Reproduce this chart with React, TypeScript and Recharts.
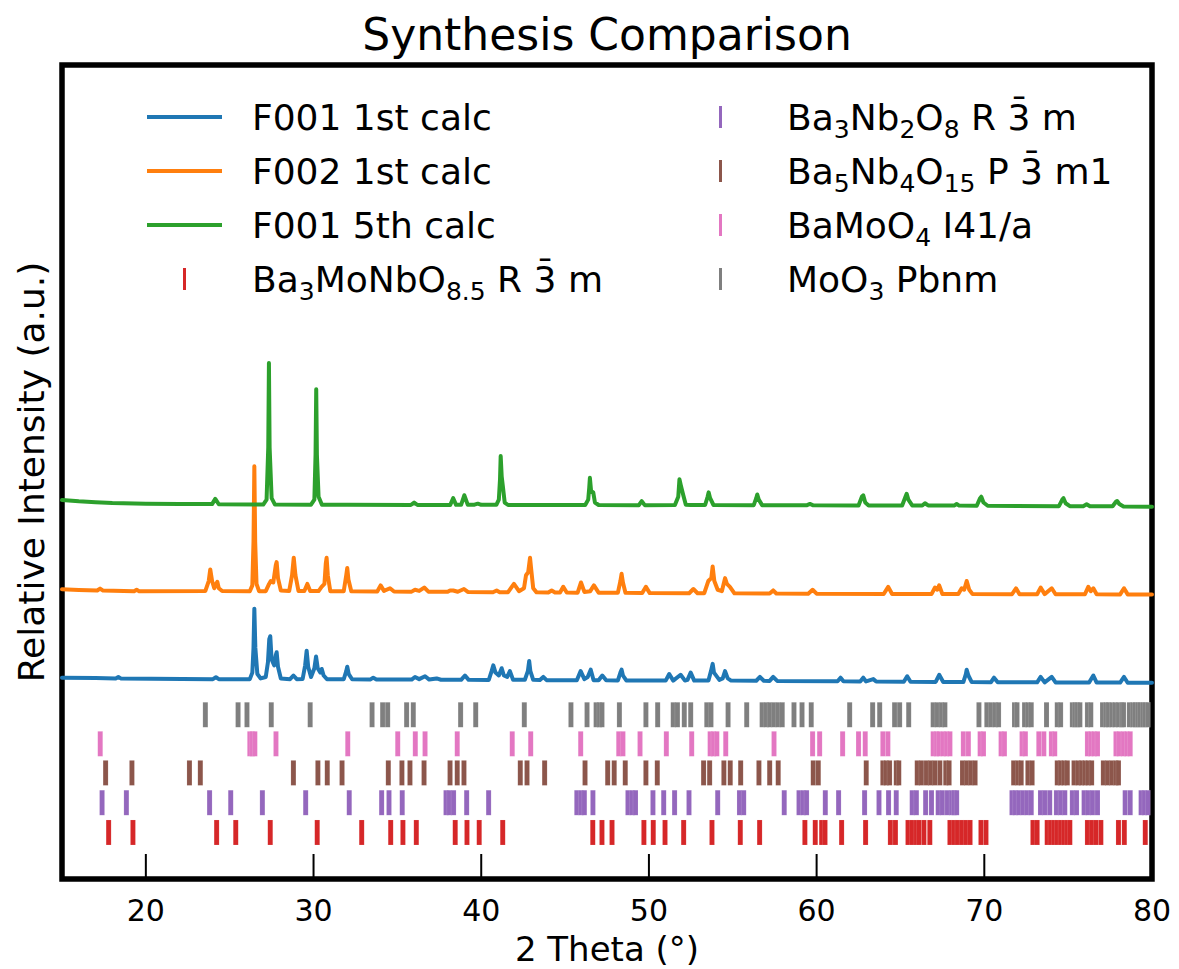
import {
  ComposedChart,
  Line,
  Scatter,
  XAxis,
  YAxis,
  ReferenceArea,
} from 'recharts'

type Pt = [number, number]

// 2θ ticks on the bottom axis
const X_TICKS = [20, 30, 40, 50, 60, 70, 80]

// measured patterns: [2θ, intensity above own baseline]
const F001_1ST: Pt[] = [
  [15, 1.5], [17, 1.2], [18.2, 1.0], [18.36, 2], [18.5, 1.0], [24.0, 0.5], [24.18, 1.8], [24.35, 0.5],
  [26.2, 0.5], [26.35, 5], [26.42, 22], [26.47, 49], [26.53, 22], [26.65, 4], [26.85, 1],
  [27.15, 2], [27.28, 12], [27.36, 28], [27.42, 30], [27.5, 14], [27.65, 10], [27.75, 17], [27.8, 19], [27.88, 9], [28.05, 1],
  [28.6, 0.5], [28.8, 3], [29.0, 0.5],
  [29.35, 0.6], [29.5, 10], [29.59, 20], [29.68, 9], [29.85, 2], [30.05, 8], [30.15, 16], [30.25, 8], [30.4, 5], [30.49, 7.5], [30.6, 3], [30.8, 0.5],
  [31.8, 0.4], [31.95, 6], [32.01, 9], [32.1, 4], [32.3, 0.4],
  [33.4, 0.3], [33.56, 1.5], [33.75, 0.3],
  [35.85, 0.2], [36.05, 2], [36.3, 0.5], [36.65, 2.5], [36.9, 0.2], [37.34, 1], [37.6, 0.1],
  [38.8, 0], [39.03, 3], [39.25, 0],
  [40.45, -0.1], [40.62, 6], [40.72, 10], [40.85, 5], [41.05, 3], [41.22, 8], [41.35, 3], [41.55, 2], [41.71, 6], [41.9, 0],
  [42.6, 0], [42.78, 6], [42.86, 13], [42.93, 6], [43.1, 0],
  [43.5, -0.1], [43.7, 2], [43.9, -0.2],
  [45.7, -0.3], [45.93, 6], [46.15, 0.5], [46.35, 2], [46.53, 7], [46.7, -0.2], [47.0, -0.3], [47.22, 3], [47.45, -0.3],
  [48.15, -0.4], [48.3, 5], [48.37, 7], [48.45, 3], [48.65, -0.4],
  [51.0, -0.5], [51.21, 4], [51.45, -0.5], [51.89, 3.5], [52.15, -0.5], [52.3, 0], [52.49, 5], [52.7, -0.5],
  [53.55, -0.5], [53.7, 6], [53.8, 11], [53.88, 5], [54.2, 0], [54.4, 1], [54.54, 6], [54.7, 1], [54.9, -0.5],
  [56.4, -0.6], [56.62, 2], [56.85, -0.6], [57.2, -0.7], [57.41, 2], [57.65, -0.7],
  [61.25, -1], [61.43, 1.5], [61.6, -1], [62.6, -1.1], [62.78, 1.5], [62.95, -1.1], [63.38, 0.5], [63.55, -1.2],
  [65.2, -1.3], [65.4, 2.5], [65.6, -1.3],
  [67.1, -1.4], [67.31, 3.5], [67.55, -1.4],
  [68.75, -1.5], [68.9, 4], [68.95, 7], [69.05, 3], [69.25, -1.5],
  [70.4, -1.6], [70.58, 1.5], [70.8, -1.6],
  [73.15, -1.7], [73.36, 2], [73.6, -1.7], [74.02, 2], [74.25, -1.8],
  [76.25, -1.8], [76.5, 3], [76.7, -1.9],
  [78.1, -1.9], [78.33, 2], [78.55, -2],
  [80, -2],
]

const F002_1ST: Pt[] = [
  [15, 2.3], [16, 1.9], [17.1, 1.5], [17.27, 2.8], [17.45, 1.4], [19.3, 1.0], [19.45, 2], [19.6, 1.0],
  [23.55, 1.2], [23.75, 8], [23.84, 16], [23.95, 8], [24.08, 3], [24.2, 6], [24.26, 7.5], [24.35, 3], [24.55, 1.1],
  [26.2, 1.0], [26.35, 5], [26.42, 35], [26.47, 87], [26.52, 35], [26.6, 6], [26.75, 1.0],
  [27.15, 1], [27.35, 6], [27.45, 8], [27.6, 7], [27.75, 19], [27.8, 21], [27.88, 10], [28.05, 1.5],
  [28.55, 1.2], [28.72, 12], [28.82, 24], [28.92, 12], [29.1, 1.2],
  [29.45, 1.1], [29.63, 6], [29.8, 1.1],
  [30.3, 1.1], [30.48, 4], [30.65, 6], [30.73, 20], [30.78, 24], [30.85, 12], [31.0, 1.0],
  [31.8, 1.0], [31.95, 12], [32.01, 17], [32.08, 9], [32.25, 0.9],
  [33.8, 0.8], [34.0, 5], [34.2, 1.2], [34.56, 3], [34.8, 0.8],
  [35.85, 0.7], [36.05, 2], [36.3, 1.2], [36.6, 3.5], [36.85, 0.7],
  [38.0, 0.6], [38.14, 1.5], [38.33, 1.5], [38.6, 0.6], [38.97, 2.5], [39.2, 0.5],
  [40.7, 0.3], [40.92, 1.5], [41.1, 0.3],
  [41.6, 0.3], [41.95, 6], [42.25, 1], [42.55, 3], [42.67, 12], [42.8, 14], [42.91, 24], [42.98, 16], [43.1, 3], [43.3, 0.2],
  [44.0, 0.1], [44.2, 1.5], [44.4, 0.1], [44.7, 0.1], [44.89, 4], [45.1, 0.1],
  [45.75, 0], [45.95, 7], [46.15, 0.5], [46.5, 1], [46.72, 5], [47.0, 0],
  [48.15, 0], [48.3, 8], [48.37, 13], [48.45, 7], [48.6, 0],
  [49.6, -0.2], [49.82, 4], [50.05, -0.3],
  [52.4, -0.4], [52.65, 2.5], [52.9, -0.4],
  [53.3, -0.4], [53.54, 8], [53.72, 10], [53.8, 18], [53.9, 8], [54.1, 2], [54.35, 1], [54.54, 10], [54.65, 6], [54.83, 4], [55.1, -0.5],
  [57.2, -0.6], [57.41, 1.5], [57.6, -0.6],
  [59.5, -0.7], [59.76, 2], [60.0, -0.7],
  [64.0, -0.9], [64.27, 4], [64.5, -0.9],
  [66.85, -1], [67.06, 3.5], [67.2, 2], [67.31, 5], [67.5, -1],
  [68.45, -1], [68.65, 3], [68.8, 2], [68.95, 8], [69.1, 2], [69.3, -1],
  [71.65, -1.1], [71.89, 3], [72.1, -1.1],
  [73.15, -1.1], [73.36, 3.5], [73.6, -1], [74.02, 3], [74.25, -1.1],
  [76.0, -1.1], [76.2, 4], [76.35, 1], [76.5, 3], [76.7, -1.1],
  [78.1, -1.2], [78.33, 3], [78.55, -1.2],
  [80, -1.2],
]

const F001_5TH: Pt[] = [
  [15, 3.7], [16, 2.8], [17, 2.2], [18, 1.6], [20, 1.2], [22, 1.0], [23.95, 0.9], [24.14, 4.5], [24.35, 0.8],
  [27.0, 0.6], [27.2, 4], [27.3, 40], [27.34, 98], [27.38, 40], [27.5, 5], [27.7, 0.6],
  [29.85, 0.5], [30.05, 4], [30.12, 35], [30.16, 80], [30.2, 35], [30.3, 6], [30.5, 0.5],
  [32, 0.4], [35.8, 0.3], [36.0, 2], [36.2, 0.3],
  [38.15, 0.3], [38.33, 5], [38.5, 0.4], [38.8, 0.4], [38.99, 7], [39.2, 0.4], [39.6, 0.5], [39.8, 1.2], [40.0, 0.4],
  [40.9, 0.4], [41.05, 4], [41.12, 18], [41.16, 34], [41.22, 20], [41.28, 14], [41.4, 2], [41.6, 0.3],
  [46.2, 0.3], [46.38, 4], [46.44, 12], [46.48, 19], [46.55, 10], [46.68, 9], [46.78, 2], [47.0, 0.3],
  [49.4, 0.2], [49.57, 3], [49.75, 0.2],
  [51.55, 0.3], [51.75, 6], [51.82, 18], [51.9, 14], [52.05, 7], [52.2, 0.5], [52.5, 0.3],
  [53.35, 0.3], [53.5, 6], [53.56, 9], [53.65, 5], [53.85, 0.3],
  [56.25, 0.2], [56.4, 5], [56.46, 7.5], [56.55, 4], [56.75, 0.2],
  [59.4, 0.1], [59.6, 1], [59.8, 0.1],
  [62.5, 0], [62.7, 6], [62.78, 7], [62.9, 2], [63.1, 0],
  [65.1, 0], [65.3, 6], [65.37, 8], [65.47, 4], [65.7, 0],
  [66.3, 0], [66.46, 1.5], [66.65, 0],
  [68.2, -0.1], [68.35, 1], [68.5, -0.1],
  [69.55, -0.2], [69.75, 5], [69.82, 6], [69.95, 2], [70.2, -0.2],
  [74.45, -0.5], [74.65, 4], [74.72, 5], [74.85, 1.5], [75.1, -0.5],
  [75.9, -0.5], [76.1, 0.8], [76.3, -0.6],
  [77.65, -0.6], [77.85, 2.5], [77.92, 3], [78.05, 1], [78.3, -0.7],
  [80, -0.9],
]

// reference reflection positions (2θ) for each phase
const BA3MONBO85_PEAKS = [
  17.78, 19.23, 24.22, 25.36, 27.42, 30.22, 32.87, 34.6, 35.33, 36.13, 38.45, 39.15, 39.88, 41.28,
  46.65, 47.2, 47.8, 49.7, 50.26, 50.96, 52.07, 53.76, 55.45, 56.6, 59.3, 59.92, 60.3, 60.5, 61.49,
  62.92, 64.4, 64.7, 65.45, 65.7, 65.95, 66.1, 66.4, 66.75, 67.95, 68.2, 68.4, 68.65, 68.9, 69.15,
  69.8, 70.1, 72.9, 73.15, 73.75, 73.95, 74.15, 74.35, 74.55, 74.75, 74.95, 75.1, 76.15, 76.4,
  76.65, 76.95, 78.0, 78.35, 79.6,
]
const BA3NB2O8_PEAKS = [
  17.39, 18.84, 23.8, 25.06, 26.95, 29.53, 32.13, 34.06, 34.5, 35.29, 37.9, 38.1, 38.35, 39.13,
  40.44, 45.7, 45.95, 46.15, 46.66, 48.75, 49.0, 49.2, 50.24, 50.88, 51.53, 52.39, 54.1, 55.4,
  55.65, 58.07, 58.95, 59.2, 59.4, 60.52, 61.31, 62.86, 63.72, 64.29, 64.75, 65.7, 65.95, 66.5,
  66.85, 67.25, 67.5, 67.8, 68.05, 68.2, 68.35, 71.65, 71.85, 72.05, 72.3, 72.55, 72.8, 73.35,
  73.6, 73.9, 74.3, 74.55, 74.8, 75.25, 75.5, 75.95, 76.2, 76.45, 76.75, 78.4, 78.7, 79.35, 79.55,
  79.75,
]
const BA5NB4O15_PEAKS = [
  17.6, 19.17, 22.6, 23.25, 28.8, 30.26, 30.82, 31.7, 34.46, 35.27, 35.75, 36.59, 38.14, 38.57,
  38.97, 42.33, 42.73, 43.78, 46.19, 47.54, 47.93, 48.59, 49.82, 50.5, 53.26, 53.62, 54.47, 54.85,
  55.47, 56.56, 57.2, 57.71, 59.8, 60.1, 62.96, 63.95, 64.15, 64.35, 64.75, 64.9, 66.0, 66.25,
  66.55, 66.8, 67.05, 67.35, 67.7, 67.9, 68.7, 68.95, 69.2, 69.45, 71.75, 72.0, 72.2, 72.6, 72.85,
  74.35, 74.55, 74.75, 74.95, 75.35, 75.6, 75.8, 76.0, 76.2, 76.4, 77.1, 77.35, 77.6, 77.85, 78.0,
]
const BAMOO4_PEAKS = [
  17.28, 26.2, 26.35, 26.5, 27.76, 32.04, 35.02, 36.07, 36.65, 38.57, 41.85, 42.95, 45.93, 48.2,
  48.45, 49.47, 51.04, 52.55, 53.65, 53.85, 54.05, 54.58, 57.46, 59.76, 60.18, 61.55, 62.5, 62.9,
  63.95, 64.25, 66.95, 67.15, 67.3, 67.55, 67.75, 67.95, 68.75, 69.05, 69.75, 69.95, 71.0, 71.2,
  72.25, 72.45, 73.25, 73.55, 74.0, 74.2, 76.15, 76.35, 76.55, 76.75, 77.85, 78.05, 78.3, 78.5,
  78.7,
]
const MOO3_PEAKS = [
  23.55, 25.5, 26.03, 27.48, 29.8, 33.49, 34.12, 34.42, 35.55, 35.95, 38.77, 39.67, 42.57, 45.35,
  46.31, 46.85, 47.05, 47.2, 48.24, 49.82, 50.52, 51.45, 51.7, 52.11, 52.49, 53.45, 53.7, 54.72,
  55.83, 56.75, 57.0, 57.2, 57.45, 57.7, 57.95, 58.65, 59.13, 59.68, 61.97, 63.34, 63.76, 64.65,
  64.95, 65.49, 66.95, 67.2, 67.45, 67.65, 69.68, 70.15, 70.4, 70.65, 70.85, 71.8, 71.95, 72.4,
  72.6, 72.8, 73.71, 74.35, 74.55, 75.25, 75.4, 75.55, 75.7, 76.15, 76.35, 77.05, 77.25, 77.4,
  77.6, 77.8, 78.0, 78.2, 78.3, 78.65, 78.85, 79.0, 79.15, 79.3, 79.45, 79.6, 79.75,
]

// label pieces: [text, isSubscript]
type Part = [string, boolean]

const PATTERNS = [
  { name: 'F001 1st calc', color: '#1f77b4', points: F001_1ST, offset: 137 },
  { name: 'F002 1st calc', color: '#ff7f0e', points: F002_1ST, offset: 197 },
  { name: 'F001 5th calc', color: '#2ca02c', points: F001_5TH, offset: 257 },
]

const PHASES: { label: Part[]; color: string; peaks: number[]; row: number }[] = [
  {
    label: [['Ba', false], ['3', true], ['MoNbO', false], ['8.5', true], [' R 3\u0304 m', false]],
    color: '#d62728',
    peaks: BA3MONBO85_PEAKS,
    row: 32,
  },
  {
    label: [['Ba', false], ['3', true], ['Nb', false], ['2', true], ['O', false], ['8', true], [' R 3\u0304 m', false]],
    color: '#9467bd',
    peaks: BA3NB2O8_PEAKS,
    row: 52.5,
  },
  {
    label: [['Ba', false], ['5', true], ['Nb', false], ['4', true], ['O', false], ['15', true], [' P 3\u0304 m1', false]],
    color: '#8c564b',
    peaks: BA5NB4O15_PEAKS,
    row: 73,
  },
  {
    label: [['BaMoO', false], ['4', true], [' I41/a', false]],
    color: '#e377c2',
    peaks: BAMOO4_PEAKS,
    row: 93,
  },
  {
    label: [['MoO', false], ['3', true], [' Pbnm', false]],
    color: '#7f7f7f',
    peaks: MOO3_PEAKS,
    row: 113,
  },
]

const FONT = '"DejaVu Sans", sans-serif'
const LEGEND_FS = 36

function AxisTick({ x, y, payload }: any) {
  return (
    <g>
      <line x1={x} x2={x} y1={y} y2={y - 25} stroke="#000" strokeWidth={2} />
      <text x={x} y={y + 42} textAnchor="middle" fontSize={30} fill="#000">
        {payload.value}
      </text>
    </g>
  )
}

const peakMark = (color: string) => (props: any) => (
  <rect
    x={props.cx - 2.5}
    y={props.cy - 12.5}
    width={5}
    height={25}
    fill={color}
    stroke="#fff"
    strokeOpacity={0.25}
    strokeWidth={0.5}
  />
)

function RichLabel({ x, y, parts }: { x: number; y: number; parts: Part[] }) {
  let shifted = false
  return (
    <text x={x} y={y} fontSize={LEGEND_FS} fill="#000">
      {parts.map(([t, sub], i) => {
        const dy = sub && !shifted ? 8 : !sub && shifted ? -8 : 0
        shifted = sub
        return (
          <tspan key={i} dy={dy} fontSize={sub ? 25 : LEGEND_FS}>
            {t}
          </tspan>
        )
      })}
    </text>
  )
}

function LegendOverlay() {
  const rows = [130, 184, 238, 292]
  const left = [...PATTERNS.map((p) => ({ kind: 'line', color: p.color, parts: [[p.name, false]] as Part[] })),
    { kind: 'mark', color: PHASES[0].color, parts: PHASES[0].label }]
  const right = PHASES.slice(1).map((p) => ({ kind: 'mark', color: p.color, parts: p.label }))
  const item = (it: { kind: string; color: string; parts: Part[] }, i: number, hx: number, tx: number) => {
    const cy = rows[i] - 13
    return (
      <g key={`${hx}-${i}`}>
        {it.kind === 'line' ? (
          <line x1={hx} x2={hx + 75} y1={cy} y2={cy} stroke={it.color} strokeWidth={4} />
        ) : (
          <rect x={hx + 37.5 - 1.5} y={cy - 11} width={3} height={22} fill={it.color} />
        )}
        <RichLabel x={tx} y={rows[i]} parts={it.parts} />
      </g>
    )
  }
  return (
    <svg width={1179} height={969} style={{ position: 'absolute', left: 0, top: 0, pointerEvents: 'none' }}>
      <text x={607} y={50} textAnchor="middle" fontSize={44} fill="#000">
        Synthesis Comparison
      </text>
      {left.map((it, i) => item(it, i, 147, 252))}
      {right.map((it, i) => item(it, i, 683, 787))}
    </svg>
  )
}

export default function App() {
  return (
    <div style={{ position: 'absolute', left: 0, top: 0, width: 1179, height: 969, background: '#fff', fontFamily: FONT }}>
      <ComposedChart width={1179} height={969} margin={{ top: 65, right: 27, bottom: 30, left: 0 }}>
        <XAxis
          dataKey="x"
          type="number"
          domain={[15, 80]}
          ticks={X_TICKS}
          height={60}
          axisLine={false}
          tickLine={false}
          tickSize={0}
          tickMargin={0}
          tick={<AxisTick />}
          label={{ value: '2 Theta (°)', position: 'bottom', offset: -2, fontSize: 34, fill: '#000' }}
        />
        <YAxis
          dataKey="y"
          type="number"
          domain={[0, 560]}
          width={62}
          axisLine={false}
          tickLine={false}
          tick={false}
          label={{ value: 'Relative Intensity (a.u.)', angle: -90, position: 'center', fontSize: 36, fill: '#000' }}
        />
        {PATTERNS.map((p) => (
          <Line
            key={p.name}
            data={p.points.map(([x, v]) => ({ x, y: v + p.offset }))}
            dataKey="y"
            type="linear"
            stroke={p.color}
            strokeWidth={4}
            strokeLinejoin="round"
            strokeLinecap="round"
            dot={false}
            isAnimationActive={false}
          />
        ))}
        {PHASES.map((ph) => (
          <Scatter
            key={ph.color}
            data={ph.peaks.map((x) => ({ x, y: ph.row }))}
            shape={peakMark(ph.color)}
            isAnimationActive={false}
          />
        ))}
        <ReferenceArea x1={15} x2={80} y1={0} y2={560} fill="none" stroke="#000" strokeWidth={5.5} />
      </ComposedChart>
      <LegendOverlay />
    </div>
  )
}
